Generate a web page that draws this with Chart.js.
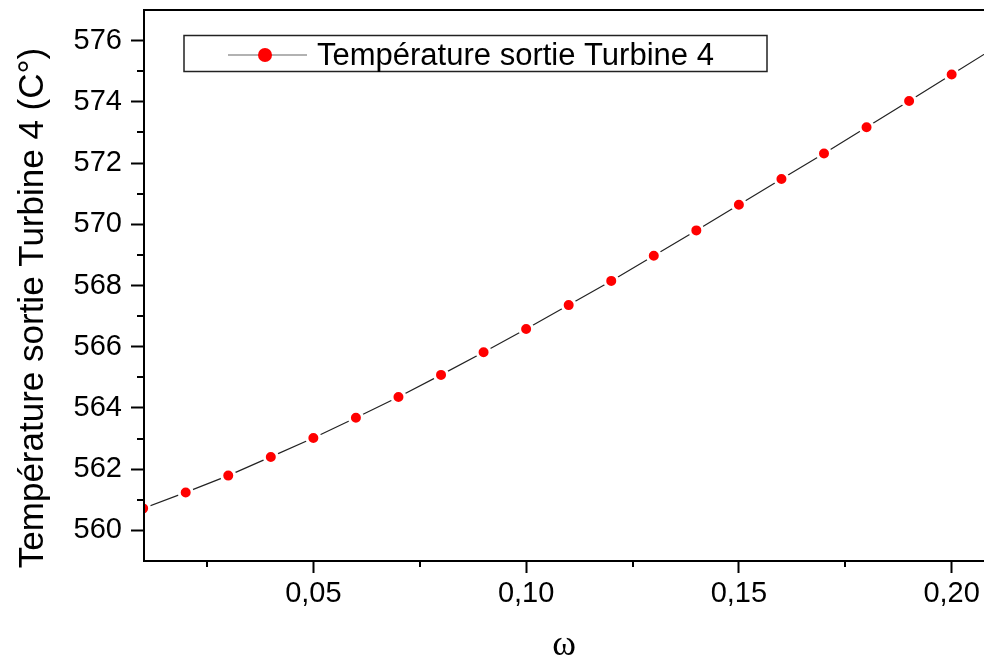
<!DOCTYPE html>
<html>
<head>
<meta charset="utf-8">
<script src="https://cdn.jsdelivr.net/npm/chart.js@4/dist/chart.umd.min.js"></script>
<style>
  html, body { margin: 0; padding: 0; background: #fff; }
  canvas { display: block; }
</style>
</head>
<body>
<canvas id="chart" width="984" height="660"></canvas>
<script>
// data
const omega = [0.01, 0.02, 0.03, 0.04, 0.05, 0.06, 0.07, 0.08, 0.09, 0.10,
               0.11, 0.12, 0.13, 0.14, 0.15, 0.16, 0.17, 0.18, 0.19, 0.20, 0.21];
const tempSortie = [560.72, 561.24, 561.79, 562.40, 563.02, 563.68, 564.36, 565.08, 565.82, 566.58,
                    567.36, 568.15, 568.97, 569.80, 570.64, 571.48, 572.31, 573.17, 574.03, 574.89, 575.76];
const seriesLabel = 'Température sortie Turbine 4';
const xTickValues = [0.05, 0.10, 0.15, 0.20];
const xMinorValues = [0.025, 0.075, 0.125, 0.175];
const yTickValues = [560, 562, 564, 566, 568, 570, 572, 574, 576];
const yMinorValues = [561, 563, 565, 567, 569, 571, 573, 575];
const yTitle = 'Température sortie Turbine 4 (C°)';
const xTitle = 'ω';

Chart.defaults.font.family = '"Liberation Sans", Arial, sans-serif';
Chart.defaults.color = '#000';

/* -------- frame, minor ticks, legend, y title -------- */
const decorPlugin = {
  id: 'decor',
  afterDraw(chart) {
    const ctx = chart.ctx;
    const area = chart.chartArea;
    const xs = chart.scales.x, ys = chart.scales.y;
    ctx.save();
    ctx.strokeStyle = '#000';

    // top frame line
    ctx.lineWidth = 2;
    ctx.beginPath();
    ctx.moveTo(area.left - 1, area.top);
    ctx.lineTo(area.right, area.top);
    ctx.stroke();

    // minor ticks
    yMinorValues.forEach(v => {
      const y = Math.round(ys.getPixelForValue(v));
      ctx.beginPath();
      ctx.moveTo(area.left - 7, y);
      ctx.lineTo(area.left, y);
      ctx.stroke();
    });
    xMinorValues.forEach(v => {
      const x = Math.round(xs.getPixelForValue(v));
      ctx.beginPath();
      ctx.moveTo(x, area.bottom);
      ctx.lineTo(x, area.bottom + 6);
      ctx.stroke();
    });

    // legend box
    const ds = chart.data.datasets[0];
    ctx.lineWidth = 1.5;
    ctx.strokeStyle = '#222';
    ctx.strokeRect(184, 35.5, 583, 36);
    ctx.strokeStyle = '#666';
    ctx.lineWidth = 1.2;
    ctx.beginPath();
    ctx.moveTo(228, 55);
    ctx.lineTo(307, 55);
    ctx.stroke();
    ctx.fillStyle = ds.pointBackgroundColor;
    ctx.beginPath();
    ctx.arc(265, 55, 7, 0, Math.PI * 2);
    ctx.fill();
    ctx.fillStyle = '#000';
    ctx.font = '31px "Liberation Sans", Arial, sans-serif';
    ctx.textAlign = 'left';
    ctx.textBaseline = 'middle';
    ctx.fillText(ds.label, 317, 56);

    // y axis title
    ctx.translate(33, 308);
    ctx.rotate(-Math.PI / 2);
    ctx.font = '35px "Liberation Sans", Arial, sans-serif';
    ctx.textAlign = 'center';
    ctx.textBaseline = 'middle';
    ctx.fillText(yTitle, 0, 0);
    ctx.restore();
  }
};

const points = omega.map((x, i) => ({ x, y: tempSortie[i] }));

function noEdgePadding(s) {
  s.paddingTop = 0;
  s.paddingBottom = 0;
  s.paddingLeft = 0;
  s.paddingRight = 0;
}

new Chart(document.getElementById('chart'), {
  type: 'line',
  data: {
    datasets: [{
      label: seriesLabel,
      data: points,
      borderColor: '#222',
      borderWidth: 1.2,
      pointRadius: 6.5,
      pointBorderWidth: 3,
      pointBorderColor: '#fff',
      pointBackgroundColor: '#ff0000',
      tension: 0,
      clip: 0
    }]
  },
  options: {
    responsive: false,
    animation: false,
    layout: { autoPadding: false, padding: { top: 10, right: 0, bottom: 0, left: 0 } },
    plugins: { legend: { display: false }, tooltip: { enabled: false } },
    scales: {
      x: {
        type: 'linear',
        min: 0.0102,
        max: 0.2076,
        afterBuildTicks: s => { s.ticks = xTickValues.map(v => ({ value: v })); },
        afterFit: s => { s.height = 99; noEdgePadding(s); },
        ticks: {
          font: { size: 29 },
          padding: 4,
          maxRotation: 0,
          autoSkip: false,
          callback: v => v.toFixed(2).replace('.', ',')
        },
        grid: { drawOnChartArea: false, tickLength: 12, tickWidth: 2, tickColor: '#000' },
        border: { display: true, color: '#000', width: 2, z: 1 },
        title: {
          display: true,
          text: xTitle,
          font: { family: '"Liberation Serif", "DejaVu Serif", serif', size: 36, lineHeight: 1 },
          padding: { top: 0, bottom: -4 }
        }
      },
      y: {
        type: 'linear',
        min: 559,
        max: 577,
        afterBuildTicks: s => { s.ticks = yTickValues.map(v => ({ value: v })); },
        afterFit: s => { s.width = 144; noEdgePadding(s); },
        ticks: { font: { size: 29 }, padding: 9, autoSkip: false },
        grid: { drawOnChartArea: false, tickLength: 13, tickWidth: 2, tickColor: '#000' },
        border: { display: true, color: '#000', width: 2, z: 1 },
        title: { display: false }
      }
    }
  },
  plugins: [decorPlugin]
});
</script>
</body>
</html>
